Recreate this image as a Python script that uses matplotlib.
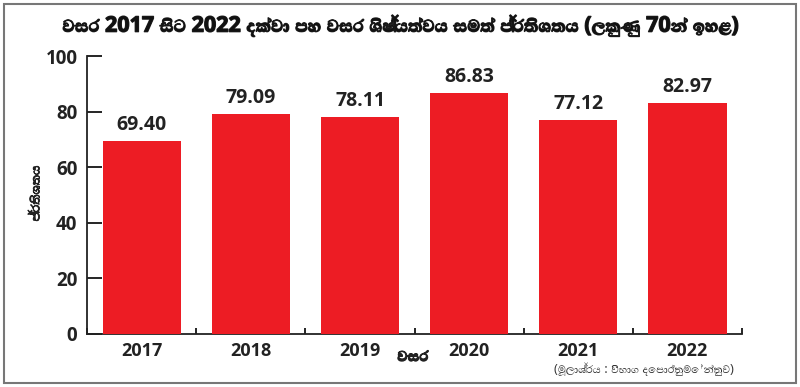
import matplotlib
matplotlib.use("Agg")
import matplotlib.pyplot as plt
import matplotlib.patheffects as pe
import numpy as np
from matplotlib import font_manager
from matplotlib.ft2font import FT2Font
from matplotlib.patches import Rectangle

years = ["2017", "2018", "2019", "2020", "2021", "2022"]
pass_rate = [69.40, 79.09, 78.11, 86.83, 77.12, 82.97]
y_ticks = [0, 20, 40, 60, 80, 100]

title = "වසර 2017 සිට 2022 දක්වා පහ වසර ශිෂ්‍යත්වය සමත් ප්‍රතිශතය (ලකුණු 70න් ඉහළ)"
y_label = "ප්‍රතිශතය"
x_label = "වසර"
source = "(මූලාශ්‍රය : විභාග දෙපාර්තුමේන්තුව)"


def has_sinhala(path):
    try:
        return 0x0DC0 in FT2Font(path).get_charmap()
    except Exception:
        return False


# look for anything installed that can draw Sinhala
sinhala = sorted({f.name for f in font_manager.fontManager.ttflist if has_sinhala(f.fname)})
fams = ["Open Sans"] + sinhala[:1] + ["DejaVu Sans"]
plt.rcParams["font.family"] = fams

red = "#ed1c24"
ink = "#222222"
# the sinhala font has no bold face, so thicken it a little
fat = [pe.withStroke(linewidth=0.9, foreground=ink)]

fig = plt.figure(figsize=(8, 3.87), dpi=100)
ax = fig.add_axes([0.109, 0.137, 0.8185, 0.718])

x = np.arange(len(years))
bars = ax.bar(x, pass_rate, width=0.716, color=red, zorder=3)
for b, v in zip(bars, pass_rate):
    ax.text(b.get_x() + b.get_width() / 2, v + 2.2, f"{v:.2f}", ha="center", va="bottom",
            fontsize=14, fontweight="bold", color=ink)

ax.set_xlim(-0.5, len(years) - 0.5)
ax.set_ylim(0, 100)
ax.set_yticks(y_ticks)
ax.set_yticklabels([str(t) for t in y_ticks], fontsize=13.5, fontweight="bold", color=ink)
ax.tick_params(axis="y", direction="in", length=11, width=1.2, pad=7)

ax.set_xticks(x)
ax.set_xticklabels(years, fontsize=13, fontweight="bold", color=ink)
ax.tick_params(axis="x", length=0, pad=6)
ax.set_xticks(np.arange(-0.5, len(years)), minor=True)
ax.tick_params(axis="x", which="minor", direction="in", length=4, width=1.2)

for s in ["top", "right"]:
    ax.spines[s].set_visible(False)
for s in ["left", "bottom"]:
    ax.spines[s].set_linewidth(1.3)
    ax.spines[s].set_color(ink)

fig.text(0.5, 0.935, title, ha="center", va="center", fontsize=15.5, fontweight="bold",
         color="#111111", path_effects=fat)
fig.text(0.045, 0.5, y_label, rotation=90, ha="center", va="center", fontsize=11,
         color=ink, path_effects=[pe.withStroke(linewidth=0.6, foreground=ink)])
fig.text(0.516, 0.08, x_label, ha="center", va="center", fontsize=13, fontweight="bold",
         color=ink, path_effects=fat)
fig.text(0.805, 0.045, source, ha="center", va="center", fontsize=9.5, color="#333333")

# grey frame round the whole picture
fig.patches.append(Rectangle((0.005, 0.01), 0.99, 0.98, transform=fig.transFigure,
                             fill=False, edgecolor="#777777", linewidth=1.5))

fig.savefig("out.png", dpi=100, facecolor="white")
